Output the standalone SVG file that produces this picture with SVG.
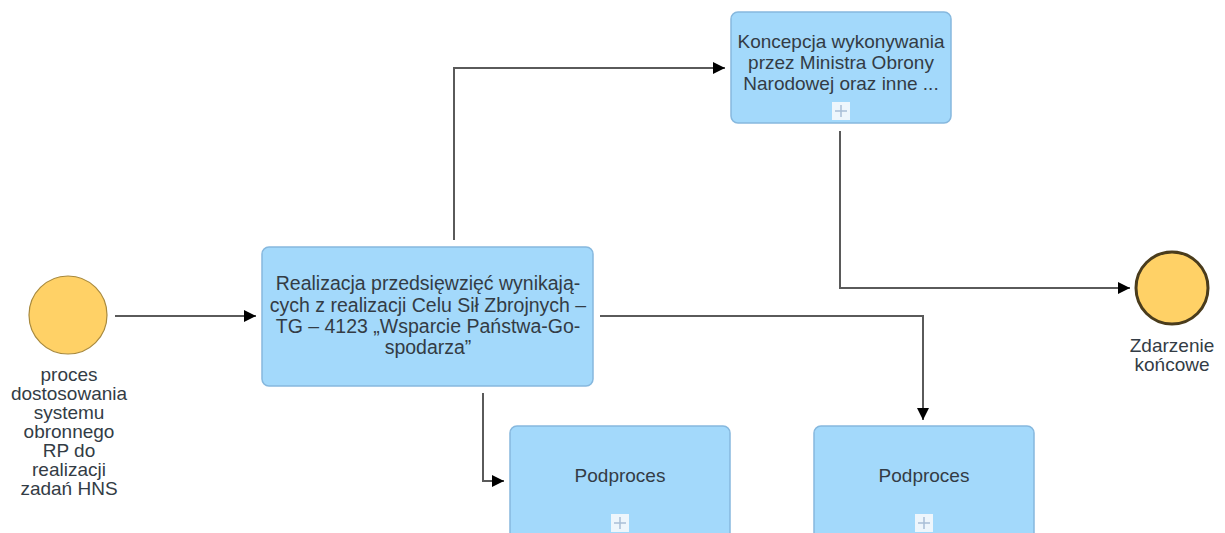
<svg xmlns="http://www.w3.org/2000/svg" width="1225" height="533" viewBox="0 0 1225 533">
<defs>
<style>
.task{fill:#a3d9fb;stroke:#86b8de;stroke-width:1.5}
.lbl{font-family:"Liberation Sans",Arial,sans-serif;font-size:19px;fill:#333c45;text-anchor:middle}
.big{font-size:19.5px}
.conn{fill:none;stroke:#5a5a5a;stroke-width:2}
.plusbox{fill:#eef6fc;stroke:none}
.plus{stroke:#a9bfd6;stroke-width:1.5}
.ev{fill:#ffd166}
</style>
<marker id="arr" viewBox="0 0 12 12" refX="12" refY="6" markerWidth="12" markerHeight="12" markerUnits="userSpaceOnUse" orient="auto">
<path d="M0,0 L12,6 L0,12 Z" fill="#000"/>
</marker>
</defs>
<rect width="1225" height="533" fill="#fff"/>
<g id="connectors">
<path class="conn" d="M115,316 H256" marker-end="url(#arr)"/>
<path class="conn" d="M454,240 V68 H725" marker-end="url(#arr)"/>
<path class="conn" d="M840,131 V288 H1130" marker-end="url(#arr)"/>
<path class="conn" d="M600,316 H923 V420" marker-end="url(#arr)"/>
<path class="conn" d="M483,393 V481 H504" marker-end="url(#arr)"/>
</g>
<g id="start">
<circle class="ev" cx="68" cy="315" r="39" stroke="#a8893c" stroke-width="1.2"/>
<text class="lbl"><tspan x="69" y="381">proces</tspan><tspan x="69" y="400">dostosowania</tspan><tspan x="69" y="419">systemu</tspan><tspan x="69" y="438">obronnego</tspan><tspan x="69" y="457">RP do</tspan><tspan x="69" y="476">realizacji</tspan><tspan x="69" y="495">zadań HNS</tspan></text>
</g>
<g id="main">
<rect class="task" x="262" y="247" width="331" height="139" rx="7"/>
<text class="lbl big"><tspan x="428" y="290">Realizacja przedsięwzięć wynikają-</tspan><tspan x="428" y="312">cych z realizacji Celu Sił Zbrojnych –</tspan><tspan x="428" y="333">TG – 4123 „Wsparcie Państwa-Go-</tspan><tspan x="428" y="354">spodarza”</tspan></text>
</g>
<g id="koncepcja">
<rect class="task" x="731" y="12" width="220" height="111" rx="7"/>
<text class="lbl"><tspan x="841" y="48">Koncepcja wykonywania</tspan><tspan x="841" y="69">przez Ministra Obrony</tspan><tspan x="841" y="90">Narodowej oraz inne ...</tspan></text>
<rect class="plusbox" x="832" y="102" width="18" height="18"/>
<path class="plus" d="M835,111 H847 M841,105 V117"/>
</g>
<g id="end">
<circle class="ev" cx="1172" cy="288" r="36" stroke="#4a3c1c" stroke-width="3"/>
<text class="lbl"><tspan x="1172" y="352">Zdarzenie</tspan><tspan x="1172" y="371">końcowe</tspan></text>
</g>
<g id="podproces1">
<rect class="task" x="510" y="426" width="220" height="130" rx="7"/>
<text class="lbl" x="620" y="482">Podproces</text>
<rect class="plusbox" x="611" y="514" width="18" height="18"/>
<path class="plus" d="M614,523 H626 M620,517 V529"/>
</g>
<g id="podproces2">
<rect class="task" x="814" y="426" width="220" height="130" rx="7"/>
<text class="lbl" x="924" y="482">Podproces</text>
<rect class="plusbox" x="915" y="514" width="18" height="18"/>
<path class="plus" d="M918,523 H930 M924,517 V529"/>
</g>
</svg>
